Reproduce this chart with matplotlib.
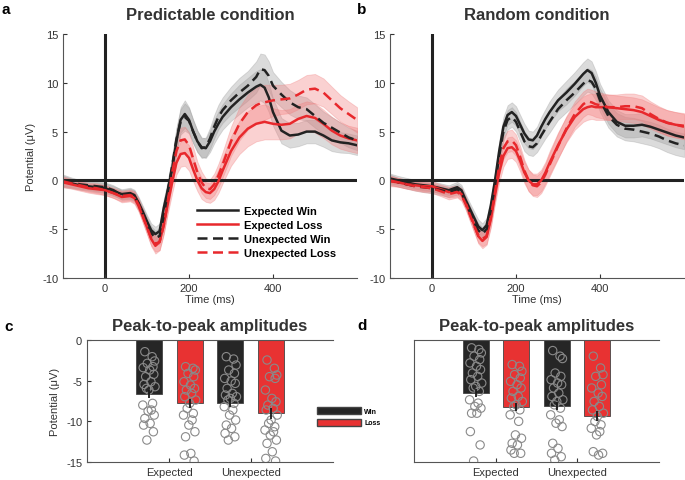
import numpy as np
import matplotlib
matplotlib.use('Agg')
import matplotlib.pyplot as plt
from matplotlib.patches import Patch

plt.rcParams['font.family'] = ['Liberation Sans', 'DejaVu Sans']

# ---- ERP data ----
t = [-100, -80, -60, -40, -20, 0, 20, 40, 60, 70,
     80, 90, 100, 110, 120, 130, 140, 150, 160, 170,
     180, 190, 200, 210, 220, 230, 240, 250, 260, 270,
     280, 300, 320, 340, 360, 370, 380, 390, 400, 420,
     440, 460, 480, 500, 520, 540, 560, 580, 600]

# Predictable condition
ew_a = [-0.1, -0.3, -0.5, -0.6, -0.7, -0.8, -1.1, -1.4, -1.3, -1.5,
        -2.3, -3.2, -4.2, -5.1, -5.5, -5.2, -2.8, -0.9, 1.2, 4.0,
        6.2, 6.8, 6.2, 5.0, 4.0, 3.4, 3.3, 4.0, 5.0, 5.8,
        6.5, 7.5, 8.3, 9.0, 9.6, 9.8, 9.5, 8.5, 7.0, 5.1,
        4.6, 4.7, 5.0, 5.0, 4.6, 4.1, 3.9, 3.8, 3.6]
el_a = [-0.2, -0.4, -0.6, -0.8, -0.9, -1.0, -1.3, -1.7, -1.6, -1.8,
        -2.6, -3.7, -4.8, -6.0, -6.7, -6.3, -4.5, -2.3, -0.2, 1.8,
        2.7, 2.8, 2.3, 1.1, 0.0, -0.8, -1.2, -1.3, -0.9, -0.1,
        1.0, 3.0, 4.4, 5.3, 5.8, 5.9, 6.0, 5.9, 5.8, 5.7,
        5.8, 6.3, 6.6, 6.4, 5.8, 5.1, 4.6, 4.3, 4.1]
uw_a = [0.0, -0.2, -0.4, -0.5, -0.6, -0.7, -1.0, -1.5, -1.4, -1.6,
        -2.4, -3.4, -4.4, -5.4, -5.9, -5.7, -3.6, -1.0, 1.5, 4.2,
        6.0, 6.5, 6.1, 5.0, 4.0, 3.3, 3.4, 4.3, 5.5, 6.5,
        7.2, 8.2, 9.0, 9.7, 10.6, 11.4, 11.3, 10.7, 9.7, 8.8,
        8.0, 7.5, 7.3, 6.6, 5.9, 5.4, 4.9, 4.4, 4.1]
ul_a = [-0.1, -0.3, -0.5, -0.7, -0.8, -1.0, -1.3, -1.6, -1.5, -1.7,
        -2.5, -3.6, -4.8, -5.9, -6.5, -6.3, -4.6, -2.0, 0.8, 3.0,
        4.1, 4.2, 3.6, 2.2, 0.8, -0.2, -0.8, -0.9, -0.4, 0.5,
        1.6, 4.0, 5.8, 7.0, 7.7, 7.9, 8.0, 8.1, 8.2, 8.3,
        8.4, 8.8, 9.3, 9.4, 9.0, 8.2, 7.4, 6.8, 6.2]
sem_k_a = [0.6, 0.5, 0.45, 0.45, 0.5, 0.5, 0.5, 0.5, 0.55, 0.55,
           0.6, 0.6, 0.65, 0.7, 0.75, 0.8, 0.9, 1.0, 1.1, 1.2,
           1.3, 1.4, 1.3, 1.2, 1.1, 1.0, 1.0, 1.1, 1.2, 1.25,
           1.3, 1.4, 1.5, 1.5, 1.6, 1.6, 1.6, 1.5, 1.4, 1.3,
           1.25, 1.2, 1.2, 1.2, 1.15, 1.1, 1.05, 1.0, 1.0]
sem_r_a = [0.5, 0.45, 0.45, 0.45, 0.5, 0.5, 0.5, 0.55, 0.55, 0.6,
           0.6, 0.65, 0.7, 0.75, 0.8, 0.85, 0.9, 1.0, 1.1, 1.2,
           1.3, 1.3, 1.3, 1.2, 1.1, 1.1, 1.0, 1.0, 1.1, 1.2,
           1.3, 1.5, 1.7, 1.8, 1.8, 1.8, 1.8, 1.7, 1.6, 1.5,
           1.5, 1.5, 1.5, 1.5, 1.45, 1.4, 1.35, 1.3, 1.3]

# Random condition
ew_b = [0.2, 0.0, -0.2, -0.4, -0.5, -0.6, -0.8, -1.0, -0.7, -1.0,
        -2.0, -2.9, -3.8, -4.7, -5.1, -4.6, -2.6, 0.0, 3.0, 5.5,
        6.7, 7.0, 6.6, 5.7, 4.8, 4.2, 4.1, 4.6, 5.5, 6.3,
        7.0, 8.2, 9.0, 9.9, 10.9, 11.3, 11.0, 10.0, 8.7, 7.0,
        6.0, 5.6, 5.6, 5.7, 5.5, 5.2, 4.9, 4.6, 4.4]
el_b = [-0.1, -0.2, -0.4, -0.5, -0.6, -0.6, -0.9, -1.2, -1.1, -1.4,
        -2.3, -3.4, -4.5, -5.7, -6.2, -5.8, -4.0, -1.5, 0.8, 2.5,
        3.3, 3.4, 3.0, 2.0, 0.8, 0.0, -0.4, -0.4, 0.0, 0.8,
        1.8, 3.6, 5.2, 6.5, 7.3, 7.5, 7.6, 7.5, 7.5, 7.5,
        7.4, 7.3, 7.2, 7.0, 6.6, 6.2, 5.9, 5.7, 5.6]
uw_b = [0.1, -0.2, -0.4, -0.6, -0.7, -0.8, -1.0, -1.2, -0.9, -1.2,
        -2.2, -3.2, -4.2, -5.1, -5.5, -5.0, -3.0, -0.5, 2.5, 5.0,
        6.2, 6.5, 6.0, 5.0, 4.0, 3.5, 3.4, 3.8, 4.6, 5.3,
        6.0, 7.3, 8.2, 9.0, 9.9, 10.3, 10.1, 9.4, 8.2, 6.6,
        5.7, 5.3, 5.2, 5.0, 4.8, 4.5, 4.1, 3.8, 3.6]
ul_b = [0.0, -0.2, -0.4, -0.6, -0.7, -0.8, -1.1, -1.4, -1.2, -1.5,
        -2.4, -3.5, -4.6, -5.6, -6.0, -5.7, -3.8, -1.2, 1.5, 3.3,
        4.0, 4.1, 3.6, 2.4, 1.0, 0.0, -0.5, -0.6, -0.2, 0.6,
        1.6, 3.5, 5.3, 6.8, 7.8, 8.1, 8.0, 7.8, 7.7, 7.5,
        7.5, 7.6, 7.6, 7.4, 6.8, 6.3, 5.9, 5.7, 5.5]
sem_k_b = [0.5, 0.45, 0.45, 0.45, 0.5, 0.5, 0.5, 0.5, 0.55, 0.55,
           0.6, 0.6, 0.65, 0.7, 0.7, 0.75, 0.8, 0.9, 1.0, 1.0,
           1.0, 1.0, 1.0, 1.0, 1.0, 0.9, 0.9, 0.9, 1.0, 1.0,
           1.1, 1.1, 1.2, 1.2, 1.2, 1.2, 1.2, 1.2, 1.2, 1.2,
           1.2, 1.2, 1.2, 1.2, 1.2, 1.2, 1.2, 1.2, 1.2]
sem_r_b = [0.5, 0.45, 0.45, 0.45, 0.5, 0.5, 0.5, 0.55, 0.55, 0.6,
           0.6, 0.65, 0.7, 0.75, 0.75, 0.8, 0.85, 0.9, 1.0, 1.1,
           1.1, 1.1, 1.1, 1.1, 1.1, 1.1, 1.1, 1.1, 1.1, 1.1,
           1.2, 1.3, 1.3, 1.3, 1.3, 1.3, 1.3, 1.3, 1.3, 1.3,
           1.3, 1.3, 1.3, 1.3, 1.3, 1.3, 1.3, 1.3, 1.3]

# ---- peak-to-peak amplitudes ----
bar_c = [-6.6, -7.8, -7.7, -9.0]
err_c = [0.5, 0.5, 0.5, 0.7]
pts_c = [
    [-1.44, -2.05, -2.58, -2.87, -3.28, -3.4, -3.69, -4.22, -4.51, -5.13, -5.46, -5.74,
     -6.15, -5.95, -7.79, -8.0, -8.61, -8.74, -9.23, -9.64, -10.25, -10.46, -11.28, -12.3],
    [-3.28, -3.48, -3.69, -4.1, -4.51, -5.13, -5.54, -5.95, -6.15, -6.56, -6.97, -7.38,
     -7.79, -8.4, -9.02, -9.23, -9.84, -10.46, -11.28, -11.9, -13.94, -14.15, -14.88],
    [-2.05, -2.34, -3.08, -3.69, -4.1, -4.72, -5.04, -5.33, -5.95, -6.56, -6.77, -6.97,
     -7.18, -7.38, -7.79, -8.2, -8.61, -9.23, -9.84, -10.46, -10.87, -11.48, -11.9, -12.3],
    [-2.46, -3.48, -4.31, -4.51, -4.72, -6.15, -7.18, -7.59, -8.0, -8.4, -8.61, -9.23,
     -9.84, -10.25, -10.66, -11.07, -11.28, -11.69, -12.3, -12.71, -13.74, -14.56, -14.88],
]
bar_d = [-6.5, -8.2, -8.1, -9.3]
err_d = [0.5, 0.5, 0.45, 0.6]
pts_d = [
    [-0.96, -1.17, -1.58, -1.99, -2.41, -2.82, -3.23, -3.64, -4.06, -4.47, -4.88, -5.29,
     -5.7, -5.9, -6.32, -7.35, -7.76, -8.17, -8.38, -9.0, -9.0, -11.26, -12.9, -14.88],
    [-3.02, -3.23, -3.85, -4.26, -4.67, -5.08, -5.5, -5.9, -6.32, -6.94, -7.14, -7.56,
     -7.97, -8.17, -8.59, -9.2, -10.0, -11.67, -12.08, -12.7, -12.9, -13.52, -13.93, -13.93],
    [-1.3, -1.99, -2.28, -4.06, -4.47, -4.88, -5.29, -5.5, -5.9, -6.52, -6.94, -7.35,
     -7.56, -7.97, -8.38, -9.2, -9.82, -10.23, -10.64, -12.7, -13.32, -13.93, -14.35, -14.76],
    [-1.99, -3.44, -4.26, -4.47, -5.5, -5.9, -6.52, -6.94, -7.56, -8.17, -8.59, -9.0,
     -9.4, -10.02, -10.43, -10.85, -11.26, -11.67, -13.93, -13.73, -14.14],
]
group_labels = ['Expected', 'Unexpected']
jitter = [-0.1, 0.08, 0.14, -0.04, 0.1, -0.14, 0.02, 0.12, -0.08, 0.05, -0.12, 0.15,
          0.0, -0.06, 0.09, -0.15, 0.06, -0.02, 0.13, -0.1, 0.03, -0.13, 0.11, -0.05]

BLACK = '#222222'
RED = '#e8282c'
GRAY_BAND = '#9a9a9a'
RED_BAND = '#f27d7d'
SPINE = '#555555'

fig = plt.figure(figsize=(6.85, 4.81), dpi=100)
W, H = 685.0, 481.0


def erp_panel(ax, ew, el, uw, ul, sk, sr):
    tt = np.array(t)
    for vals, sem, band in [(ew, sk, GRAY_BAND), (uw, sk, GRAY_BAND),
                            (el, sr, RED_BAND), (ul, sr, RED_BAND)]:
        v = np.array(vals)
        s = np.array(sem)
        ax.fill_between(tt, v - s, v + s, facecolor=band, alpha=0.35,
                        edgecolor=band, lw=0.6)
    ax.axvline(0, color=BLACK, lw=2.2, zorder=1)
    ax.axhline(0, color=BLACK, lw=2.2, zorder=1)
    ax.plot(tt, ew, color=BLACK, lw=1.8, label='Expected Win')
    ax.plot(tt, el, color=RED, lw=1.8, label='Expected Loss')
    ax.plot(tt, uw, color=BLACK, lw=1.8, ls=(0, (4, 2.2)), label='Unexpected Win')
    ax.plot(tt, ul, color=RED, lw=1.8, ls=(0, (4, 2.2)), label='Unexpected Loss')
    ax.set_xlim(-100, 600)
    ax.set_ylim(-10, 15)
    ax.set_xticks([0, 200, 400])
    ax.set_yticks([-10, -5, 0, 5, 10, 15])
    ax.set_yticklabels(['-10', '-5', '0', '5', '10', '15'])
    for s in ['top', 'right']:
        ax.spines[s].set_visible(False)
    for s in ['left', 'bottom']:
        ax.spines[s].set_color(SPINE)
    ax.tick_params(direction='in', length=3, labelsize=8, colors='#333333')
    ax.set_xlabel('Time (ms)', fontsize=8, color='#333333', labelpad=1)


def bar_panel(ax, bars, errs, pts):
    pos = [1, 2, 3, 4]
    cols = ['#262626', '#e83232', '#262626', '#e83232']
    ax.bar(pos, bars, width=0.64, color=cols, edgecolor='#444444', lw=0.6, zorder=1)
    for p, vals in zip(pos, pts):
        xs = [p + jitter[i % len(jitter)] for i in range(len(vals))]
        ax.scatter(xs, vals, s=36, facecolors='none', edgecolors='#8a8a8a',
                   linewidths=0.8, zorder=3)
    ax.errorbar(pos, bars, yerr=errs, fmt='none', ecolor='#1a1a1a', elinewidth=1.3,
                capsize=0, zorder=4)
    ax.set_xlim(-0.52, 5.52)
    ax.set_ylim(-15, 0)
    ax.set_xticks([1.5, 3.5])
    ax.set_xticklabels(group_labels)
    ax.spines['right'].set_visible(False)
    for s in ['top', 'left', 'bottom']:
        ax.spines[s].set_color(SPINE)
    ax.tick_params(direction='in', length=3, labelsize=8, colors='#333333')


ax_a = fig.add_axes([63 / W, 1 - 279 / H, 294 / W, 244 / H])
erp_panel(ax_a, ew_a, el_a, uw_a, ul_a, sem_k_a, sem_r_a)
ax_a.set_ylabel('Potential (\u03bcV)', fontsize=8, color='#333333', labelpad=4)
ax_a.set_title('Predictable condition', fontsize=12, fontweight='bold',
               color='#333333', pad=11)
ax_a.legend(loc='upper left', bbox_to_anchor=(197 / W, 1 - 207 / H),
            bbox_transform=fig.transFigure, frameon=False,
            prop={'size': 8, 'weight': 'bold'}, handlelength=3.7,
            handletextpad=0.5, labelspacing=0.35, borderpad=0, borderaxespad=0)

ax_b = fig.add_axes([390 / W, 1 - 279 / H, 294 / W, 244 / H])
erp_panel(ax_b, ew_b, el_b, uw_b, ul_b, sem_k_b, sem_r_b)
ax_b.set_title('Random condition', fontsize=12, fontweight='bold',
               color='#333333', pad=11)

ax_c = fig.add_axes([87 / W, 1 - 463 / H, 246 / W, 122 / H])
bar_panel(ax_c, bar_c, err_c, pts_c)
ax_c.set_yticks([0, -5, -10, -15])
ax_c.set_yticklabels(['0', '-5', '-10', '-15'])
ax_c.set_ylabel('Potential (\u03bcV)', fontsize=8, color='#333333', labelpad=4)
ax_c.set_title('Peak-to-peak amplitudes', fontsize=12, fontweight='bold',
               color='#333333', pad=7)

ax_d = fig.add_axes([414 / W, 1 - 463 / H, 245 / W, 122 / H])
bar_panel(ax_d, bar_d, err_d, pts_d)
ax_d.set_yticks([])
ax_d.set_title('Peak-to-peak amplitudes', fontsize=12, fontweight='bold',
               color='#333333', pad=7)

fig.legend(handles=[Patch(facecolor='#262626', edgecolor='#444444', label='Win'),
                    Patch(facecolor='#e83232', edgecolor='#444444', label='Loss')],
           loc='upper left', bbox_to_anchor=(317 / W, 1 - 408 / H), frameon=False,
           prop={'size': 5, 'weight': 'bold'}, handlelength=6.3, handleheight=1.15,
           handletextpad=0.5, labelspacing=0.55, borderpad=0, borderaxespad=0)

for letter, x, y in [('a', 2, 10), ('b', 357, 10), ('c', 4, 327), ('d', 357, 326)]:
    fig.text(x / W, 1 - y / H, letter, fontsize=11, fontweight='bold',
             va='center', ha='left')

fig.savefig('out.png', dpi=100)
